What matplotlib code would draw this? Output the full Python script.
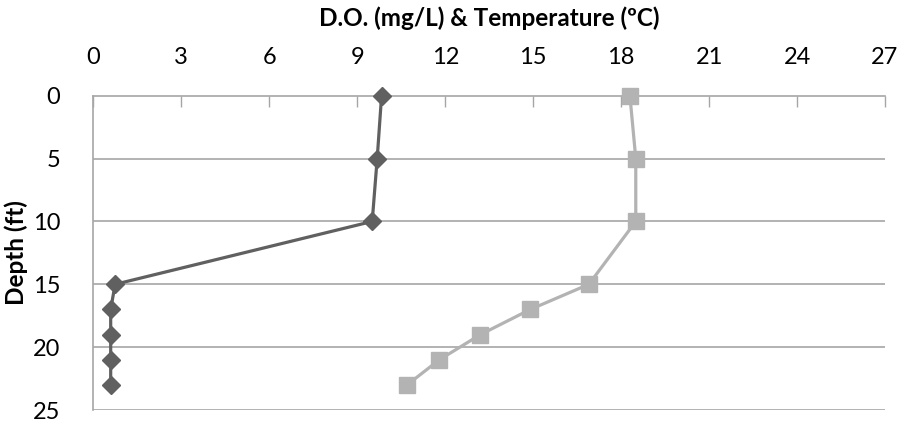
import numpy as np
import matplotlib
matplotlib.use('Agg')
import matplotlib.pyplot as plt

plt.rcParams['font.family'] = ['Lato', 'DejaVu Sans']

depth = [0, 5, 10, 15, 17, 19, 21, 23]
do_mgl = [9.83, 9.68, 9.51, 0.74, 0.59, 0.59, 0.59, 0.59]
temp_c = [18.3, 18.5, 18.5, 16.9, 14.9, 13.2, 11.8, 10.7]
x_ticks = [0, 3, 6, 9, 12, 15, 18, 21, 24, 27]
y_ticks = [0, 5, 10, 15, 20, 25]

fig = plt.figure(figsize=(8.98, 4.21), dpi=100)
ax = fig.add_axes([0.104, 0.026, 0.8815, 0.7467])

grid_col = '#a6a6a6'
for yv in y_ticks[1:]:
    ax.axhline(yv, color=grid_col, lw=1.2, zorder=1)

ax.plot(do_mgl, depth, color='#606060', lw=2.3, marker='D', ms=9.5, zorder=3, clip_on=False)
ax.plot(temp_c, depth, color='#b3b3b3', lw=2.3, marker='s', ms=12, zorder=3, clip_on=False)

ax.set_xlim(0, 27)
ax.set_ylim(25, 0)
ax.xaxis.tick_top()
ax.xaxis.set_label_position('top')
ax.set_xticks(x_ticks)
ax.set_yticks(y_ticks)
ax.tick_params(axis='x', direction='in', length=8, width=1, color=grid_col,
               labelsize=17, pad=20)
ax.tick_params(axis='y', length=0, labelsize=17, pad=24)
for s in ['right', 'bottom']:
    ax.spines[s].set_visible(False)
for s in ['top', 'left']:
    ax.spines[s].set_color(grid_col)
    ax.spines[s].set_linewidth(1.2)

ax.set_xlabel('D.O. (mg/L) & Temperature (ºC)', fontsize=17.5, fontweight='bold', va='center')
ax.xaxis.set_label_coords(0.5, 1.247)
ax.set_ylabel('Depth (ft)', fontsize=17.5, fontweight='bold', va='center')
ax.yaxis.set_label_coords(-0.098, 0.5)

fig.savefig('out.png', dpi=100)
